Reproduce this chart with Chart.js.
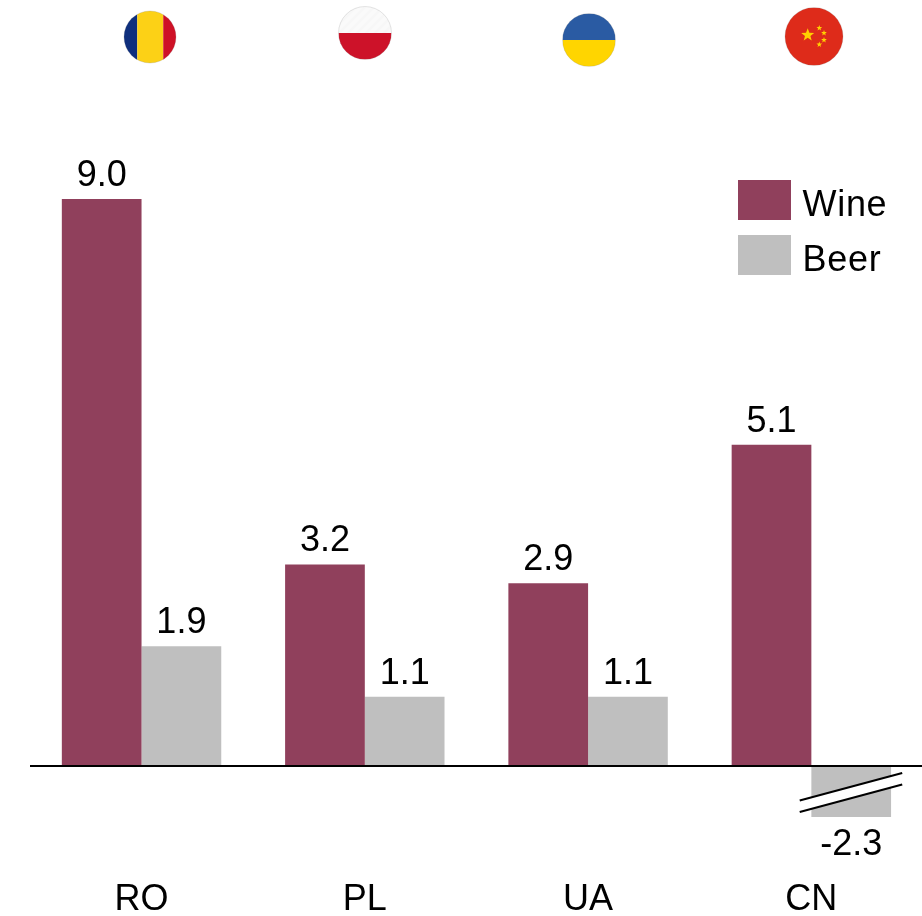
<!DOCTYPE html>
<html>
<head>
<meta charset="utf-8">
<title>Wine and Beer</title>
<script src="https://cdn.jsdelivr.net/npm/chart.js@4"></script>
<style>
html,body{margin:0;padding:0;background:#fff;overflow:hidden;width:922px;height:916px}
canvas{display:block;position:absolute;left:0;top:0}
</style>
</head>
<body>
<canvas id="c" width="923" height="916"></canvas>
<script>
const categories = ['RO', 'PL', 'UA', 'CN'];
const wine = [9.0, 3.2, 2.9, 5.1];
const beer = [1.9, 1.1, 1.1, -2.3];
const wineColor = '#90405c';
const beerColor = '#bfbfbf';
const fontFamily = '"Liberation Sans", Arial, sans-serif';
const fontSize = 36;
const axisFloor = -0.81;   // the axis is broken: the CN beer bar is cut off here
const axisCeil = 10;
const flagCx = [150, 365, 589, 814];
const flagCy = [37, 33, 40, 36.5];
const flagR = [26, 26.5, 26.5, 29];

function drawFlag(ctx, code, cx, cy, r) {
  ctx.save();
  ctx.beginPath();
  ctx.arc(cx, cy, r, 0, Math.PI * 2);
  ctx.clip();
  const L = cx - r, T = cy - r, S = 2 * r;
  if (code === 'RO') {
    ctx.fillStyle = '#0f2f7d'; ctx.fillRect(L, T, S * 0.255, S);
    ctx.fillStyle = '#fcd116'; ctx.fillRect(L + S * 0.255, T, S * 0.5, S);
    ctx.fillStyle = '#ce1126'; ctx.fillRect(L + S * 0.755, T, S * 0.245, S);
  } else if (code === 'PL') {
    ctx.fillStyle = '#fafafa'; ctx.fillRect(L, T, S, S / 2);
    ctx.fillStyle = '#cd1229'; ctx.fillRect(L, cy, S, S / 2);
  } else if (code === 'UA') {
    ctx.fillStyle = '#2a5ba3'; ctx.fillRect(L, T, S, S / 2);
    ctx.fillStyle = '#ffd500'; ctx.fillRect(L, cy, S, S / 2);
  } else {
    ctx.fillStyle = '#de2b1a'; ctx.fillRect(L, T, S, S);
    ctx.fillStyle = '#ffd000';
    star(ctx, cx - 6.3, cy - 1.5, 6.8);
    [[5.3, -8.5], [10, -3.5], [10, 3.5], [5.3, 8]].forEach(p => star(ctx, cx + p[0], cy + p[1], 3));
  }
  if (code === 'PL') {
    ctx.beginPath();
    ctx.rect(L, T, S, S / 2);
    ctx.clip();
    ctx.strokeStyle = 'rgba(0,0,0,0.012)';
    ctx.lineWidth = 3;
    for (let d = -S; d < S; d += 9) {
      ctx.beginPath();
      ctx.moveTo(L + d, T + S);
      ctx.lineTo(L + d + S, T);
      ctx.stroke();
    }
  }
  ctx.restore();
  ctx.beginPath();
  ctx.arc(cx, cy, r, 0, Math.PI * 2);
  ctx.strokeStyle = 'rgba(120,120,120,0.2)';
  ctx.lineWidth = 1;
  ctx.stroke();
}

function star(ctx, x, y, r) {
  ctx.beginPath();
  for (let i = 0; i < 10; i++) {
    const a = -Math.PI / 2 + i * Math.PI / 5;
    const q = i % 2 ? r * 0.42 : r;
    ctx.lineTo(x + q * Math.cos(a), y + q * Math.sin(a));
  }
  ctx.closePath();
  ctx.fill();
}

const extras = {
  id: 'extras',
  afterDraw(chart) {
    const ctx = chart.ctx;
    const area = chart.chartArea;
    ctx.save();
    // value labels
    ctx.font = fontSize + 'px ' + fontFamily;
    ctx.fillStyle = '#000';
    ctx.textAlign = 'center';
    ctx.textBaseline = 'alphabetic';
    chart.data.datasets.forEach((ds, di) => {
      chart.getDatasetMeta(di).data.forEach((el, i) => {
        const v = ds.data[i];
        const y = v >= 0 ? el.y - 13 : Math.min(el.y, area.bottom) + 38;
        ctx.fillText(v.toFixed(1), el.x, y);
      });
    });
    // axis-break mark over the truncated bar
    const zero = chart.scales.y.getPixelForValue(0);
    chart.getDatasetMeta(1).data.forEach((el, i) => {
      if (beer[i] >= 0) return;
      const x0 = el.x - 51.5, x1 = el.x + 51;
      const a = zero + 34.5, b = zero + 7, g = 11.5;
      ctx.beginPath();
      ctx.moveTo(x0, a); ctx.lineTo(x1, b); ctx.lineTo(x1, b + g); ctx.lineTo(x0, a + g);
      ctx.closePath();
      ctx.fillStyle = '#fff';
      ctx.fill();
      ctx.strokeStyle = '#000';
      ctx.lineWidth = 2;
      ctx.beginPath(); ctx.moveTo(x0, a); ctx.lineTo(x1, b); ctx.stroke();
      ctx.beginPath(); ctx.moveTo(x0, a + g); ctx.lineTo(x1, b + g); ctx.stroke();
    });
    // legend, inside the plot at the upper right
    ctx.textAlign = 'left';
    ctx.fontKerning = 'none';
    ctx.letterSpacing = '0.7px';
    chart.data.datasets.forEach((ds, i) => {
      const top = 180 + i * 55;
      ctx.fillStyle = ds.backgroundColor;
      ctx.fillRect(738, top, 53, 40);
      ctx.fillStyle = '#000';
      ctx.fillText(ds.label, 802.5, top + 36);
    });
    ctx.letterSpacing = '0px';
    ctx.fontKerning = 'auto';
    // flags above each category
    categories.forEach((c, i) => drawFlag(ctx, c, flagCx[i], flagCy[i], flagR[i]));
    ctx.restore();
  }
};

new Chart(document.getElementById('c'), {
  type: 'bar',
  data: {
    labels: categories,
    datasets: [
      { label: 'Wine', data: wine, backgroundColor: wineColor, barPercentage: 1, categoryPercentage: 0.714 },
      { label: 'Beer', data: beer, backgroundColor: beerColor, barPercentage: 1, categoryPercentage: 0.714 }
    ]
  },
  options: {
    responsive: false,
    animation: false,
    layout: { padding: { left: 29.9, right: 0, top: 136, bottom: 0 } },
    plugins: {
      tooltip: { enabled: false },
      title: { display: false },
      legend: { display: false }
    },
    scales: {
      x: {
        position: 'bottom',
        grid: { display: false, drawTicks: false },
        border: { display: false },
        afterFit(s) { s.height = 99; },
        ticks: {
          color: '#000',
          font: { family: fontFamily, size: fontSize },
          padding: 61,
          maxRotation: 0,
          autoSkip: false
        }
      },
      y: {
        min: axisFloor,
        max: axisCeil,
        afterFit(s) { s.width = 0; },
        border: { display: false },
        ticks: { display: false, stepSize: 1 },
        grid: {
          z: 1,
          drawTicks: false,
          color: ctx => (ctx.tick && ctx.tick.value === 0 ? '#000' : 'rgba(0,0,0,0)'),
          lineWidth: 2
        }
      }
    }
  },
  plugins: [extras]
});
</script>
</body>
</html>
